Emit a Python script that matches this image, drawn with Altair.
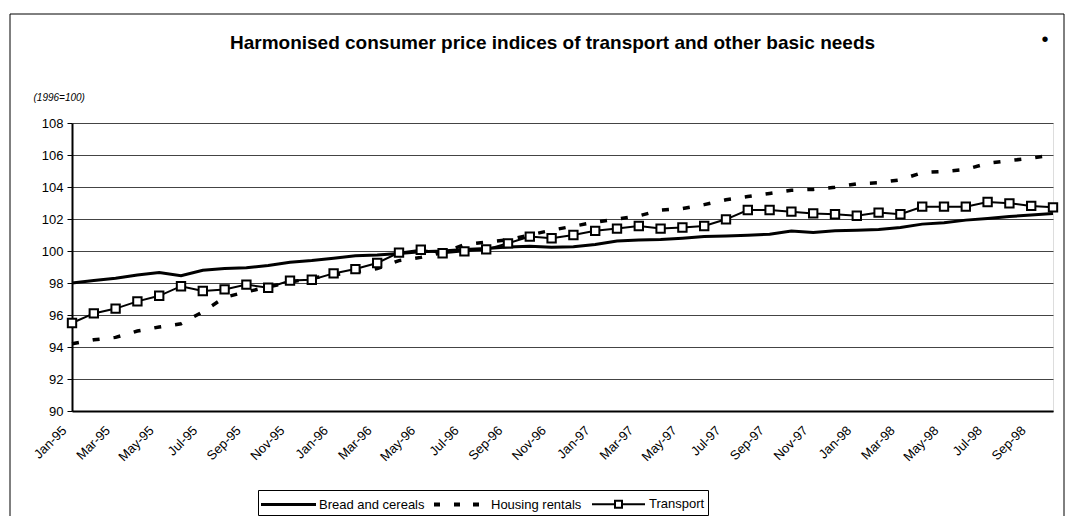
import altair as alt
import pandas as pd

months = ["Jan-95","Feb-95","Mar-95","Apr-95","May-95","Jun-95","Jul-95","Aug-95","Sep-95","Oct-95","Nov-95","Dec-95",
          "Jan-96","Feb-96","Mar-96","Apr-96","May-96","Jun-96","Jul-96","Aug-96","Sep-96","Oct-96","Nov-96","Dec-96",
          "Jan-97","Feb-97","Mar-97","Apr-97","May-97","Jun-97","Jul-97","Aug-97","Sep-97","Oct-97","Nov-97","Dec-97",
          "Jan-98","Feb-98","Mar-98","Apr-98","May-98","Jun-98","Jul-98","Aug-98","Sep-98","Oct-98"]

bread = [98.0, 98.15, 98.3, 98.5, 98.65, 98.45, 98.8, 98.9, 98.95, 99.1, 99.3, 99.4,
         99.55, 99.7, 99.75, 99.85, 99.95, 100.0, 100.1, 100.15, 100.25, 100.3, 100.23, 100.27,
         100.4, 100.63, 100.68, 100.72, 100.8, 100.9, 100.93, 100.98, 101.05, 101.25, 101.15, 101.27,
         101.3, 101.35, 101.47, 101.68, 101.77, 101.93, 102.03, 102.15, 102.25, 102.35]

housing = [94.2, 94.45, 94.6, 95.0, 95.25, 95.45, 96.2, 97.1, 97.45, 97.75, 98.05, 98.3,
           98.5, 98.7, 98.9, 99.4, 99.6, 99.9, 100.4, 100.55, 100.7, 101.0, 101.3, 101.55,
           101.8, 102.0, 102.2, 102.55, 102.65, 102.9, 103.2, 103.4, 103.6, 103.8, 103.85, 103.98,
           104.2, 104.27, 104.45, 104.9, 104.97, 105.1, 105.48, 105.65, 105.8, 106.0]

transport = [95.5, 96.1, 96.4, 96.85, 97.2, 97.8, 97.5, 97.6, 97.9, 97.7, 98.15, 98.2,
             98.6, 98.87, 99.25, 99.9, 100.08, 99.86, 99.98, 100.1, 100.48, 100.9, 100.8, 101.0,
             101.26, 101.4, 101.56, 101.4, 101.47, 101.56, 101.98, 102.56, 102.56, 102.46, 102.35, 102.3,
             102.2, 102.4, 102.3, 102.77, 102.77, 102.77, 103.06, 102.98, 102.82, 102.73]

series_names = ["Bread and cereals", "Housing rentals", "Transport"]
y_ticks = [90, 92, 94, 96, 98, 100, 102, 104, 106, 108]
x_ticks = months[::2]

title_text = "Harmonised consumer price indices of transport and other basic needs"
unit_text = "(1996=100)"

rows = []
for name, vals in zip(series_names, [bread, housing, transport]):
    for m, v in zip(months, vals):
        rows.append({"month": m, "series": name, "value": v})
df = pd.DataFrame(rows)

FONT = "Liberation Sans"
W, H = 981, 288

x_enc = alt.X("month:O", sort=months,
              scale=alt.Scale(type="point", padding=0),
              axis=alt.Axis(values=x_ticks, labelAngle=-45, labelAlign="right", labelBaseline="middle",
                            labelPadding=17, labelOffset=-8, ticks=False, grid=False,
                            domainColor="black", domainWidth=2, labelFont=FONT, labelFontSize=13,
                            labelColor="black", title=None))
y_enc = alt.Y("value:Q",
              scale=alt.Scale(domain=[90, 108], nice=False, zero=False),
              axis=alt.Axis(values=y_ticks, grid=True, gridColor="#444444", gridWidth=1,
                            domainColor="black", domainWidth=2, tickColor="black", tickSize=5,
                            labelFont=FONT, labelFontSize=13, labelColor="black", labelPadding=4,
                            title=unit_text, titleAngle=0, titleAlign="left", titleBaseline="middle",
                            titleX=-39, titleY=-26, titleFont=FONT, titleFontSize=10,
                            titleFontStyle="italic", titleFontWeight="normal", titleColor="black"))

base = alt.Chart(df)

frame = alt.Chart(pd.DataFrame({"k": [0]})).mark_rect(fill="transparent", stroke="black", strokeWidth=1).encode(
    x=alt.value(-62), x2=alt.value(992), y=alt.value(-109), y2=alt.value(396))

bread_line = base.transform_filter(alt.datum.series == "Bread and cereals").mark_line(
    color="black", strokeWidth=3).encode(x=x_enc, y=y_enc)

housing_line = base.transform_filter(alt.datum.series == "Housing rentals").mark_line(
    color="black", strokeWidth=3.5, strokeDash=[7, 14], strokeCap="butt").encode(x=x_enc, y=y_enc)

transport_line = base.transform_filter(alt.datum.series == "Transport").mark_line(
    color="black", strokeWidth=2).encode(x=x_enc, y=y_enc)

transport_pts = base.transform_filter(alt.datum.series == "Transport").mark_point(
    shape="square", size=70, filled=True, fill="white", stroke="black", strokeWidth=2, opacity=1).encode(
    x=x_enc, y=y_enc)

sym_paths = [
    "M-1,-0.06H4.3V0.06H-1Z",
    "M-0.9,-0.1H-0.5V0.1H-0.9ZM1.1,-0.1H1.5V0.1H1.1ZM3.0,-0.1H3.4V0.1H3.0Z",
    "M-1,0H1.3M2,0H4.3M1.3,-0.35H2V0.35H1.3Z",
]

legend_layer = base.transform_filter("false").mark_point(
    filled=False, color="black", strokeWidth=2, opacity=1).encode(
    x=x_enc, y=y_enc,
    shape=alt.Shape("series:N",
                    scale=alt.Scale(domain=series_names, range=sym_paths),
                    legend=alt.Legend(orient="none", legendX=186, legendY=367, direction="horizontal",
                                      columns=3, title=None, symbolSize=400, symbolStrokeWidth=2,
                                      symbolStrokeColor="black", labelOffset=36, columnPadding=6,
                                      padding=3, strokeColor="black", fillColor="white",
                                      labelFont=FONT, labelFontSize=13, labelColor="black")))

dot = alt.Chart(pd.DataFrame({"t": ["•"]})).mark_text(
    font=FONT, fontSize=20, color="black").encode(text="t:N", x=alt.value(973), y=alt.value(-83))

chart = alt.layer(frame, bread_line, housing_line, transport_line, transport_pts, legend_layer, dot).properties(
    width=W, height=H,
    title=alt.TitleParams(title_text, font=FONT, fontSize=19, fontWeight="bold", color="black",
                          anchor="middle", frame="group", baseline="alphabetic", offset=-54, dx=-10),
    autosize=alt.AutoSizeParams(type="none"),
    padding={"left": 64, "top": 115, "right": 13, "bottom": 105},
).configure_view(stroke="black", strokeWidth=2).configure(background="white")

chart.save("out.html", embed_options={"renderer": "svg", "actions": False})
